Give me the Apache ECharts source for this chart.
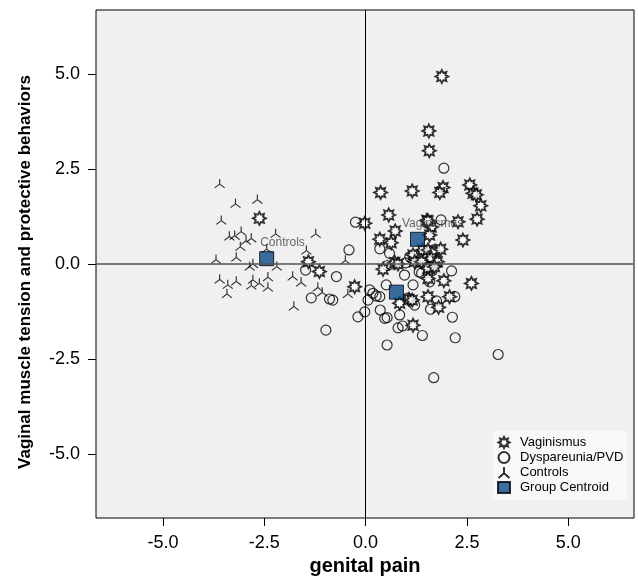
<!DOCTYPE html>
<html>
<head>
<meta charset="utf-8">
<script src="https://cdn.jsdelivr.net/npm/echarts@6/dist/echarts.min.js"></script>
<style>
html,body{margin:0;padding:0;background:#fff;}
#chart{width:638px;height:583px;}
</style>
</head>
<body>
<div id="chart"></div>
<script>
// ---- data ----
const xTicks = [-5.0, -2.5, 0.0, 2.5, 5.0];
const yTicks = [-5.0, -2.5, 0.0, 2.5, 5.0];
const xTitle = 'genital pain';
const yTitle = 'Vaginal muscle tension and protective behaviors';
const seriesNames = ['Vaginismus', 'Dyspareunia/PVD', 'Controls', 'Group Centroid'];

const vaginismus = [
  [1.88,4.93],[1.56,3.50],[1.57,2.98],[0.37,1.88],[1.15,1.92],[1.91,2.01],[1.83,1.88],
  [2.57,2.08],[2.65,1.86],[2.73,1.82],[2.84,1.53],[2.75,1.18],[0.57,1.29],[-0.02,1.07],
  [0.73,0.87],[1.51,1.15],[2.28,1.11],[1.62,0.97],[1.58,0.76],[0.35,0.65],[0.63,0.56],
  [2.40,0.63],[1.54,1.13],[1.41,0.37],[1.54,0.37],[1.70,0.32],[1.85,0.39],[1.62,0.15],
  [1.77,0.06],[1.17,0.24],[1.21,0.06],[1.38,0.06],[0.72,0.04],[0.80,0.00],[0.43,-0.14],
  [1.54,-0.11],[1.70,-0.07],[1.54,-0.38],[1.93,-0.44],[2.61,-0.51],[-0.27,-0.60],
  [0.84,-1.03],[1.07,-0.93],[1.15,-0.95],[1.54,-0.86],[2.07,-0.86],[1.80,-1.14],
  [1.17,-1.61],[-2.62,1.20],[-1.41,0.06],[-1.14,-0.20]
];
const dyspareunia = [
  [1.93,2.52],[1.86,1.16],[-0.25,1.10],[-0.41,0.37],[0.35,0.40],[0.59,0.28],[1.09,0.19],
  [0.51,-0.55],[0.96,-0.29],[1.38,-0.24],[1.17,-0.55],[1.58,-0.47],[2.12,-0.18],[0.10,-0.68],
  [0.18,-0.77],[0.26,-0.84],[0.35,-0.86],[0.06,-0.95],[1.04,-0.90],[1.13,-0.95],[1.75,-0.97],
  [2.20,-0.86],[1.60,-1.19],[-0.02,-1.26],[-0.19,-1.39],[0.36,-1.21],[0.47,-1.43],[0.53,-1.41],
  [0.84,-1.34],[2.14,-1.40],[0.80,-1.68],[0.91,-1.63],[1.40,-1.88],[2.21,-1.94],[0.53,-2.13],
  [1.68,-2.99],[3.27,-2.38],[-1.48,-0.16],[-0.72,-0.33],[-1.34,-0.89],[-0.89,-0.92],
  [-0.81,-0.95],[-0.98,-1.74],[0.99,0.03],[1.32,-0.21],[1.64,-0.18],[0.54,-0.04],[1.21,-1.08]
];
const controls = [
  [-3.60,2.12],[-3.21,1.60],[-2.67,1.71],[-3.56,1.16],[-1.23,0.81],[-2.22,0.81],[-3.36,0.74],
  [-3.23,0.76],[-3.07,0.87],[-2.95,0.63],[-2.82,0.69],[-3.09,0.47],[-2.44,0.41],[-3.69,0.13],
  [-3.19,0.19],[-1.46,0.37],[-0.50,0.11],[-2.86,-0.05],[-2.78,0.02],[-2.19,-0.05],[-2.41,-0.33],
  [-1.80,-0.31],[-1.59,-0.47],[-3.60,-0.39],[-3.40,-0.53],[-3.19,-0.44],[-2.78,-0.40],
  [-2.82,-0.55],[-2.62,-0.49],[-2.41,-0.60],[-3.42,-0.77],[-1.18,-0.60],[-1.07,-0.73],
  [-0.44,-0.77],[-1.77,-1.10]
];
const centroidNames = ['Vaginismus', 'Dyspareunia/PVD', 'Controls'];
const centroids = [[1.28,0.65],[0.76,-0.74],[-2.44,0.14]];
const centroidLabelShown = [true, false, true];

// ---- symbols ----
function starPath(n, rOut, rIn) {
  let d = '';
  for (let i = 0; i < 2 * n; i++) {
    const r = i % 2 ? rIn : rOut;
    const a = i * Math.PI / n - Math.PI / 2;
    d += (i ? 'L' : 'M') + (r * Math.cos(a)).toFixed(3) + ',' + (r * Math.sin(a)).toFixed(3) + ' ';
  }
  return 'path://' + d + 'Z';
}
const starSymbol = starPath(8, 10, 6.0);
const controlSymbol = 'path://M0,-8 L0,0 L-7,6 M0,0 L7,6';

const FONT = '"Liberation Sans", Arial, sans-serif';
const labelOffsets = [[-8, -14], [0, -14], [1, -14]];

const chart = echarts.init(document.getElementById('chart'), null, {renderer: 'canvas'});
const option = {
  animation: false,
  backgroundColor: '#ffffff',
  textStyle: {fontFamily: FONT},
  grid: {
    left: 96, right: 4, top: 10, bottom: 65,
    show: true, backgroundColor: '#f0f0f0', borderColor: '#000', borderWidth: 1
  },
  graphic: [{
    type: 'text', x: 25, y: 272, rotation: Math.PI / 2, silent: true,
    style: {text: yTitle, fill: '#000', font: 'bold 17px ' + FONT,
      textAlign: 'center', textVerticalAlign: 'middle'}
  }],
  xAxis: {
    type: 'value', min: -6.65, max: 6.62,
    name: xTitle, nameLocation: 'middle', nameGap: 35,
    nameTextStyle: {fontFamily: FONT, fontSize: 20, fontWeight: 'bold', color: '#000'},
    axisLine: {show: false, onZero: false},
    axisTick: {show: true, length: 8, lineStyle: {color: '#000'}, customValues: xTicks},
    axisLabel: {color: '#000', fontSize: 18, fontFamily: FONT, margin: 16,
      customValues: xTicks, formatter: v => v.toFixed(1)},
    splitLine: {show: false}
  },
  yAxis: {
    type: 'value', min: -6.68, max: 6.68,
    axisLine: {show: false, onZero: false},
    axisTick: {show: true, length: 8, lineStyle: {color: '#000'}, customValues: yTicks},
    axisLabel: {color: '#000', fontSize: 18, fontFamily: FONT, margin: 16,
      customValues: yTicks, formatter: v => v.toFixed(1)},
    splitLine: {show: false}
  },
  legend: {
    data: seriesNames,
    orient: 'vertical',
    left: 493, top: 431,
    padding: [5, 4, 6, 4],
    backgroundColor: '#f8f8f8',
    itemWidth: 12, itemHeight: 11, itemGap: 2,
    textStyle: {fontFamily: FONT, fontSize: 13, color: '#000', lineHeight: 13, padding: [0, 0, 0, 5]},
    selectedMode: false
  },
  series: [
    {
      name: '_axes', type: 'scatter', data: [], silent: true,
      markLine: {
        silent: true, symbol: 'none', label: {show: false},
        data: [
          {xAxis: 0, lineStyle: {color: '#000', width: 1, type: 'solid'}},
          {yAxis: 0, lineStyle: {color: '#555', width: 1.5, type: 'solid'}}
        ]
      }
    },
    {
      name: 'Controls', type: 'scatter', data: controls,
      symbol: controlSymbol, symbolSize: [10, 9],
      itemStyle: {color: 'rgba(0,0,0,0)', borderColor: '#000', borderWidth: 1.1}
    },
    {
      name: 'Dyspareunia/PVD', type: 'scatter', data: dyspareunia,
      symbol: 'circle', symbolSize: 10,
      itemStyle: {color: 'rgba(0,0,0,0)', borderColor: '#000', borderWidth: 1.2}
    },
    {
      name: 'Vaginismus', type: 'scatter', data: vaginismus,
      symbol: starSymbol, symbolSize: 13,
      itemStyle: {color: '#ffffff', borderColor: '#000', borderWidth: 1.8}
    },
    {
      name: 'Group Centroid', type: 'scatter',
      data: centroids.map((c, i) => ({
        name: centroidNames[i], value: c,
        label: {show: centroidLabelShown[i], position: labelOffsets[i],
          formatter: centroidNames[i], color: '#444', fontSize: 12, fontFamily: FONT,
          align: 'left', verticalAlign: 'top'}
      })),
      symbol: 'rect', symbolSize: 14,
      itemStyle: {color: '#0b4a88', borderColor: '#000', borderWidth: 1}
    }
  ]
};
chart.setOption(option);
</script>
</body>
</html>
